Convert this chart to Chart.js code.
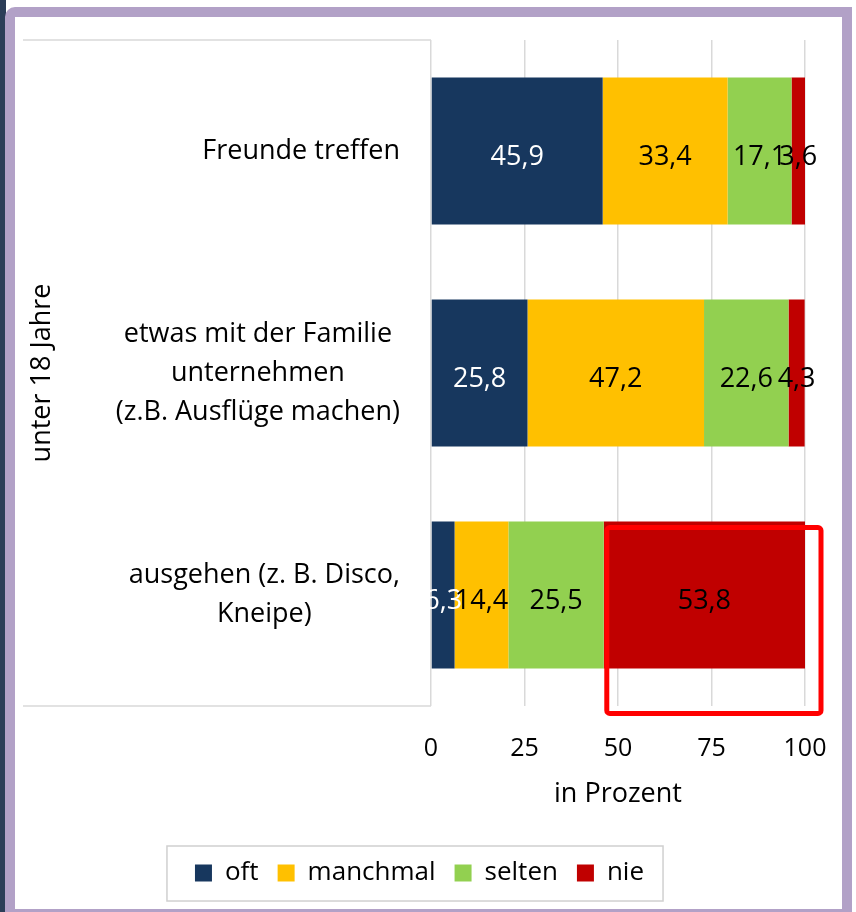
<!DOCTYPE html>
<html>
<head>
<meta charset="utf-8">
<script src="https://cdn.jsdelivr.net/npm/chart.js@4.4.1/dist/chart.umd.min.js"></script>
<style>
  html, body { margin: 0; padding: 0; background: #fff; }
  body { width: 856px; height: 912px; position: relative; overflow: hidden; }
  #strip { position: absolute; left: 0; top: 0; width: 6px; height: 912px; background: #2c3e58; }
  #frame { position: absolute; left: 5px; top: 7px; width: 827px; height: 892px; border: 10px solid #b2a1c7; border-top-left-radius: 10px; background: #fff; }
  #chart { position: absolute; left: 0; top: 0; }
</style>
</head>
<body>
<div id="strip"></div>
<div id="frame"></div>
<canvas id="chart" width="856" height="912"></canvas>
<script>
    // data
    var categories = [
        ['Freunde treffen'],
        ['etwas mit der Familie', 'unternehmen', '(z.B. Ausflüge machen)'],
        ['ausgehen (z. B. Disco,', 'Kneipe)']
    ];
    var groupLabel = 'unter 18 Jahre';
    var seriesNames = ['oft', 'manchmal', 'selten', 'nie'];
    var oft = [45.9, 25.8, 6.3];
    var manchmal = [33.4, 47.2, 14.4];
    var selten = [17.1, 22.6, 25.5];
    var nie = [3.6, 4.3, 53.8];
    var xTicks = [0, 25, 50, 75, 100];
    var axisTitle = 'in Prozent';

    var colors = ['#17375e', '#ffc000', '#92d050', '#c00000'];
    var labelColors = ['#ffffff', '#000000', '#000000', '#000000'];
    var FONT = "'Open Sans', sans-serif";

    Chart.defaults.font.family = FONT;
    Chart.defaults.color = '#000';

    function fmt(v) {
        return v.toFixed(1).replace('.', ',');
    }

    // category labels, table lines and group label on the left
    var leftSide = {
        id: 'leftSide',
        beforeDatasetsDraw: function (chart) {
            var ctx = chart.ctx, a = chart.chartArea, y = chart.scales.y;
            ctx.save();
            ctx.strokeStyle = '#d9d9d9';
            ctx.lineWidth = 1.5;
            ctx.beginPath();
            ctx.moveTo(23, a.top); ctx.lineTo(a.left, a.top);
            ctx.moveTo(23, a.bottom); ctx.lineTo(a.left, a.bottom);
            ctx.stroke();

            ctx.fillStyle = '#000';
            ctx.font = '27px ' + FONT;
            ctx.textAlign = 'center';
            ctx.textBaseline = 'middle';
            var lh = 39;
            var right = a.left - 31;
            categories.forEach(function (lines, i) {
                var cy = y.getPixelForValue(i);
                var w = Math.max.apply(null, lines.map(function (l) { return ctx.measureText(l).width; }));
                var cx = right - w / 2;
                var top = cy - (lines.length - 1) * lh / 2;
                lines.forEach(function (l, j) { ctx.fillText(l, cx, top + j * lh); });
            });

            ctx.translate(42, (a.top + a.bottom) / 2);
            ctx.rotate(-Math.PI / 2);
            ctx.font = '27px ' + FONT;
            ctx.fillText(groupLabel, 0, 0);
            ctx.restore();
        }
    };

    var valueLabels = {
        id: 'valueLabels',
        afterDatasetsDraw: function (chart) {
            var ctx = chart.ctx;
            ctx.save();
            ctx.font = '27px ' + FONT;
            ctx.textAlign = 'center';
            ctx.textBaseline = 'middle';
            chart.data.datasets.forEach(function (ds, di) {
                chart.getDatasetMeta(di).data.forEach(function (bar, i) {
                    ctx.fillStyle = labelColors[di];
                    ctx.fillText(fmt(ds.data[i]), (bar.x + bar.base) / 2, bar.y + 6);
                });
            });
            ctx.restore();
        }
    };

    var extras = {
        id: 'extras',
        afterDraw: function (chart) {
            var ctx = chart.ctx;
            ctx.save();
            // legend frame
            var hb = chart.legend.legendHitBoxes;
            var first = hb[0], last = hb[hb.length - 1];
            var cy = first.top + first.height / 2;
            ctx.strokeStyle = '#d0d0d0';
            ctx.lineWidth = 1.5;
            ctx.strokeRect(first.left - 28, cy - 27, last.left + last.width - first.left + 47, 55);

            // red highlight around the "nie" bar of the last row
            var bar = chart.getDatasetMeta(3).data[2];
            var h = bar.height;
            ctx.strokeStyle = '#ff0000';
            ctx.lineWidth = 5;
            ctx.beginPath();
            ctx.roundRect(bar.base + 3, bar.y - h / 2 + 6, bar.x - bar.base + 13, h + 39, 3);
            ctx.stroke();
            ctx.restore();
        }
    };

    var ctx = document.getElementById('chart').getContext('2d');
    var myChart = new Chart(ctx, {
        type: 'bar',
        data: {
            labels: categories,
            datasets: [oft, manchmal, selten, nie].map(function (d, i) {
                return {
                    label: seriesNames[i],
                    data: d,
                    backgroundColor: colors[i],
                    borderWidth: 0,
                    barPercentage: 0.662,
                    categoryPercentage: 1
                };
            })
        },
        options: {
            indexAxis: 'y',
            responsive: false,
            animation: false,
            devicePixelRatio: 1,
            layout: { padding: { left: 34, right: 51, top: 40, bottom: 16 } },
            plugins: {
                tooltip: { enabled: false },
                legend: {
                    position: 'bottom',
                    labels: { boxWidth: 17, boxHeight: 17, padding: 19, font: { size: 26 }, color: '#000' }
                }
            },
            scales: {
                x: {
                    stacked: true,
                    min: 0,
                    max: 100,
                    afterBuildTicks: function (s) { s.ticks = xTicks.map(function (v) { return { value: v }; }); },
                    afterFit: function (s) { s.height = 135; },
                    grid: { color: '#d9d9d9', lineWidth: 1.5, drawTicks: false },
                    border: { display: false },
                    ticks: { padding: 28, font: { size: 25 }, color: '#000' },
                    title: { display: true, text: axisTitle, font: { size: 27 }, color: '#000', padding: { top: 0, bottom: 30 } }
                },
                y: {
                    stacked: true,
                    afterFit: function (s) { s.width = 397; },
                    grid: { display: false },
                    border: { display: false },
                    ticks: { display: false }
                }
            }
        },
        plugins: [leftSide, valueLabels, extras]
    });
</script>
</body>
</html>
